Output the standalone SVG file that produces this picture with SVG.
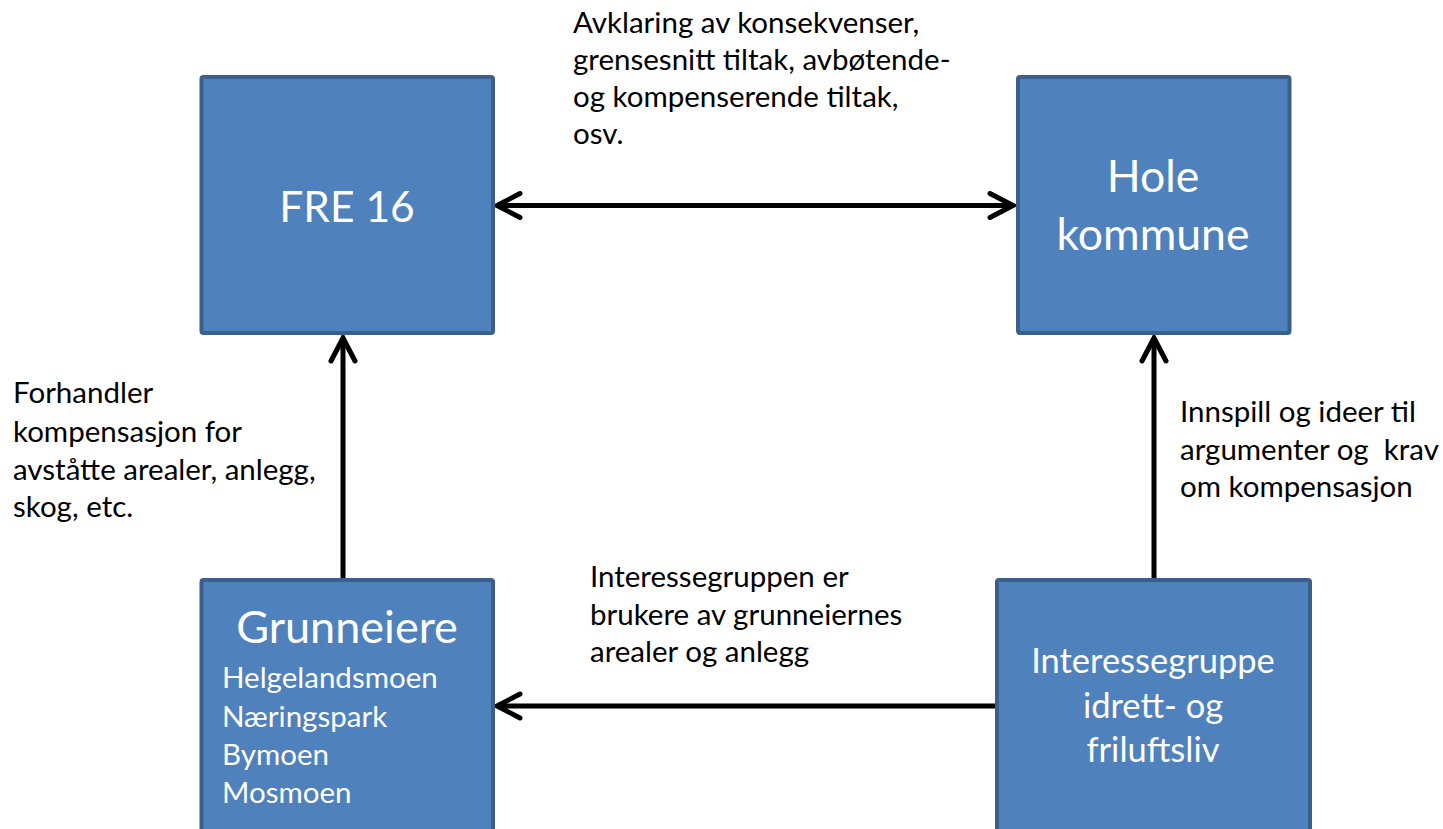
<svg xmlns="http://www.w3.org/2000/svg" width="1443" height="829" viewBox="0 0 1443 829">
<defs>
<style>
.box{fill:#4f81bd;stroke:#3a5f8b;stroke-width:4}
.bt{font-family:Lato,"Open Sans",sans-serif;fill:#ffffff}
.lbl{font-family:Lato,"Open Sans",sans-serif;fill:#000000;font-size:29.5px;white-space:pre}
.ln{stroke:#000;stroke-width:5;fill:none}
.ah{stroke:#000;stroke-width:5;fill:none;stroke-linecap:round;stroke-linejoin:miter}
</style>
<marker id="arr" markerUnits="userSpaceOnUse" viewBox="-30 -16 34 32" refX="0" refY="0" markerWidth="34" markerHeight="32" orient="auto-start-reverse" overflow="visible">
<path d="M-23,-12 L0,0 L-23,12" class="ah"/>
</marker>
</defs>
<rect width="1443" height="829" fill="#ffffff"/>
<g id="connectors">
<line class="ln" x1="497" y1="205.5" x2="1013" y2="205.5" marker-start="url(#arr)" marker-end="url(#arr)"/>
<line class="ln" x1="343" y1="578" x2="343" y2="338" marker-end="url(#arr)"/>
<line class="ln" x1="1154" y1="578" x2="1154" y2="338" marker-end="url(#arr)"/>
<line class="ln" x1="995" y1="706" x2="497" y2="706" marker-end="url(#arr)"/>
</g>
<g id="node-fre16">
<rect class="box" x="201.5" y="77" width="291.5" height="256" rx="2"/>
<text class="bt" x="347" y="222" font-size="42.5" text-anchor="middle">FRE 16</text>
</g>
<g id="node-hole">
<rect class="box" x="1018" y="77" width="271.5" height="256" rx="2"/>
<text class="bt" x="1153" y="192" font-size="44.5" text-anchor="middle">Hole</text>
<text class="bt" x="1153" y="250" font-size="44.5" text-anchor="middle">kommune</text>
</g>
<g id="node-grunneiere">
<rect class="box" x="201.5" y="580" width="291.5" height="260" rx="2"/>
<text class="bt" x="347" y="643" font-size="45" text-anchor="middle">Grunneiere</text>
<text class="bt" x="222" y="688" font-size="29.5">Helgelandsmoen</text>
<text class="bt" x="222" y="727" font-size="29.5">Næringspark</text>
<text class="bt" x="222" y="765" font-size="29.5">Bymoen</text>
<text class="bt" x="222" y="803" font-size="29.5">Mosmoen</text>
</g>
<g id="node-interessegruppe">
<rect class="box" x="997" y="580" width="313" height="260" rx="2"/>
<text class="bt" x="1153" y="673" font-size="34.5" text-anchor="middle">Interessegruppe</text>
<text class="bt" x="1153" y="718" font-size="34.5" text-anchor="middle">idrett- og</text>
<text class="bt" x="1153" y="762" font-size="34.5" text-anchor="middle">friluftsliv</text>
</g>
<g id="labels">
<text class="lbl" x="573" y="33">Avklaring av konsekvenser,</text>
<text class="lbl" x="573" y="70">grensesnitt tiltak, avbøtende-</text>
<text class="lbl" x="573" y="107">og kompenserende tiltak,</text>
<text class="lbl" x="573" y="144">osv.</text>
<text class="lbl" x="13" y="403">Forhandler</text>
<text class="lbl" x="13" y="442">kompensasjon for</text>
<text class="lbl" x="13" y="480">avståtte arealer, anlegg,</text>
<text class="lbl" x="13" y="517">skog, etc.</text>
<text class="lbl" x="1180" y="422">Innspill og ideer til</text>
<text class="lbl" x="1180" y="460">argumenter og  krav</text>
<text class="lbl" x="1180" y="497">om kompensasjon</text>
<text class="lbl" x="590" y="587">Interessegruppen er</text>
<text class="lbl" x="590" y="625">brukere av grunneiernes</text>
<text class="lbl" x="590" y="662">arealer og anlegg</text>
</g>
</svg>
